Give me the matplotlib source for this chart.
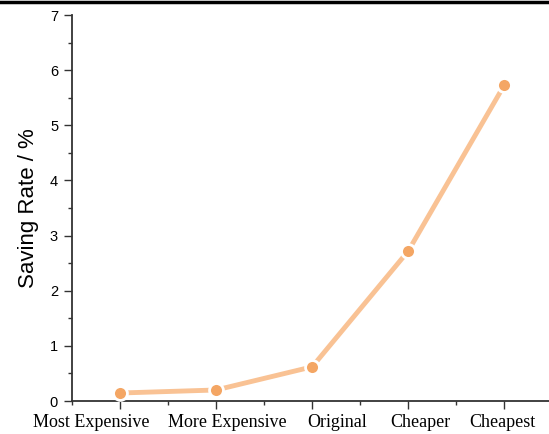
import matplotlib.pyplot as plt
from matplotlib.ticker import MultipleLocator, NullFormatter
from matplotlib.lines import Line2D

categories = ["Most Expensive", "More Expensive", "Original", "Cheaper", "Cheapest"]
saving_rate = [0.145, 0.20, 0.62, 2.72, 5.73]
# horizontal nudge (pixels) applied to each category label
label_shift = [-29, 11, 25, 12, -2]

fig = plt.figure(figsize=(5.49, 4.34), dpi=100)
ax = fig.add_axes([0.1311, 0.076, 0.875, 0.8894])

x = list(range(len(categories)))
ax.plot(x, saving_rate, color="#F9C294", lw=3.5, zorder=2)
ax.plot(x, saving_rate, ls="none", marker="o", ms=10, mfc="#F4A664",
        mec="white", mew=2, zorder=3)

ax.set_xlim(-0.5, 4.5)
ax.set_ylim(0, 7)
ax.set_xticks(x)
ax.xaxis.set_major_formatter(NullFormatter())
for xi, cat, dx in zip(x, categories, label_shift):
    ax.annotate(cat, xy=(xi, 0), xycoords=("data", "axes fraction"),
                xytext=(dx, -13), textcoords="offset pixels",
                ha="center", va="top", family="Liberation Serif", fontsize=13,
                annotation_clip=False)
ax.xaxis.set_minor_locator(MultipleLocator(0.5))
ax.yaxis.set_major_locator(MultipleLocator(1))
ax.yaxis.set_minor_locator(MultipleLocator(0.5))
for lab in ax.get_yticklabels():
    lab.set_family("Liberation Sans")
    lab.set_fontsize(10.5)
ax.tick_params(which="major", direction="out", length=6, width=1, color="#333333", pad=4)
ax.tick_params(which="minor", direction="out", length=3, width=1, color="#333333")
ax.set_ylabel("Saving Rate / %", family="Liberation Sans", fontsize=16, labelpad=8)

for side in ["top", "right"]:
    ax.spines[side].set_visible(False)
for side in ["left", "bottom"]:
    ax.spines[side].set_linewidth(1.3)
    ax.spines[side].set_color("#333333")

# thin black rule across the top
fig.add_artist(Line2D([0, 1], [1 - 1.5 / 434, 1 - 1.5 / 434], transform=fig.transFigure,
                      color="black", lw=2.5))

fig.savefig("out.png", dpi=100)
